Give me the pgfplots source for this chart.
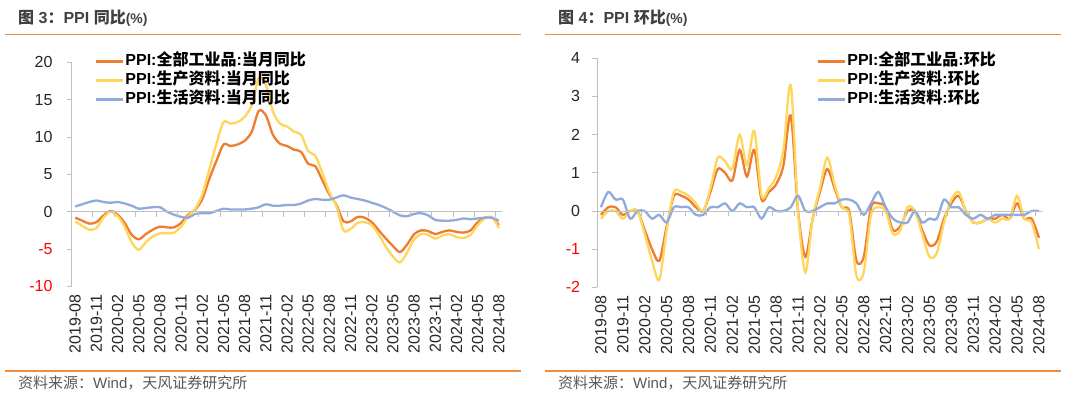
\documentclass[border=0pt]{standalone}
\usepackage{fontspec}
\setmainfont{Liberation Sans}
\newfontfamily\cjk{Noto Sans CJK SC}
\usepackage{pgfplots}
\pgfplotsset{compat=1.18}
\usepackage{pgfplotstable}
\definecolor{cO}{RGB}{237,125,49}
\definecolor{cY}{RGB}{255,214,92}
\definecolor{cB}{RGB}{143,170,220}
\definecolor{axg}{RGB}{191,191,191}
\definecolor{ttl}{RGB}{64,64,64}
\definecolor{src}{RGB}{89,89,89}
\definecolor{rulec}{RGB}{243,140,60}
\definecolor{tk}{RGB}{38,38,38}

\pgfplotstableread{
m all prod cons
0 -0.8 -1.3 0.7
1 -1.2 -1.9 1.0
2 -1.6 -2.4 1.3
3 -1.4 -2.2 1.5
4 -0.5 -0.8 1.3
5 0.1 0.0 1.2
6 -0.4 -0.6 1.3
7 -1.5 -2.0 1.1
8 -3.1 -4.1 0.8
9 -3.7 -5.1 0.4
10 -3.0 -4.1 0.5
11 -2.4 -3.3 0.6
12 -2.0 -2.9 0.6
13 -2.1 -2.9 0.0
14 -2.1 -2.8 -0.4
15 -1.5 -2.0 -0.7
16 -0.4 -0.6 -0.8
17 0.3 0.4 -0.3
18 1.7 2.3 -0.2
19 4.4 5.7 -0.2
20 6.8 9.1 0.1
21 9.0 12.0 0.4
22 8.8 11.8 0.3
23 9.0 12.0 0.3
24 9.5 12.7 0.3
25 10.7 14.3 0.4
26 13.5 17.9 0.6
27 12.9 17.0 1.0
28 10.3 13.4 0.8
29 9.1 11.8 0.8
30 8.8 11.4 0.9
31 8.3 10.7 0.9
32 8.0 10.3 1.1
33 6.4 8.1 1.5
34 6.1 7.5 1.7
35 4.2 5.2 1.6
36 2.3 2.6 1.6
37 0.9 0.7 1.9
38 -1.3 -2.5 2.2
39 -1.3 -2.3 1.9
40 -0.7 -1.5 1.7
41 -0.8 -1.4 1.5
42 -1.4 -1.8 1.2
43 -2.5 -3.1 0.9
44 -3.6 -4.7 0.5
45 -4.6 -6.0 0.0
46 -5.4 -6.8 -0.5
47 -4.4 -5.5 -0.6
48 -3.0 -3.7 -0.3
49 -2.5 -3.0 -0.2
50 -2.6 -3.1 -0.5
51 -3.0 -3.6 -1.1
52 -2.7 -3.2 -1.2
53 -2.5 -3.0 -1.2
54 -2.7 -3.4 -1.1
55 -2.8 -3.5 -0.9
56 -2.5 -3.1 -1.0
57 -1.4 -1.8 -0.9
58 -0.8 -0.9 -0.8
59 -0.8 -0.7 -0.8
60 -1.8 -2.2 -1.2
}\yoy

\pgfplotstableread{
m all prod cons
0 -0.1 -0.2 0.1
1 0.1 0.0 0.5
2 0.1 0.0 0.3
3 -0.1 -0.2 0.3
4 0.0 0.0 -0.2
5 0.0 0.0 0.0
6 -0.5 -0.6 0.0
7 -1.0 -1.3 -0.2
8 -1.3 -1.8 -0.1
9 -0.4 -0.5 -0.3
10 0.4 0.5 0.1
11 0.4 0.5 0.1
12 0.3 0.4 0.1
13 0.1 0.2 -0.1
14 0.0 0.0 -0.1
15 0.5 0.6 0.1
16 1.1 1.4 0.1
17 1.0 1.3 0.2
18 0.8 1.1 0.0
19 1.6 2.0 0.2
20 0.9 1.2 0.1
21 1.6 2.1 0.1
22 0.3 0.4 -0.2
23 0.5 0.6 0.1
24 0.7 0.9 0.0
25 1.2 1.6 0.0
26 2.5 3.3 0.1
27 0.0 0.0 0.4
28 -1.2 -1.6 0.0
29 -0.2 -0.2 0.0
30 0.5 0.6 0.1
31 1.1 1.4 0.2
32 0.6 0.7 0.2
33 0.1 0.1 0.3
34 0.0 -0.1 0.3
35 -1.3 -1.7 0.2
36 -1.2 -1.6 -0.1
37 0.1 -0.1 0.2
38 0.2 0.1 0.5
39 0.1 0.0 0.1
40 -0.5 -0.6 -0.2
41 -0.4 -0.5 -0.3
42 0.0 0.1 -0.3
43 0.0 0.0 0.0
44 -0.5 -0.6 -0.3
45 -0.9 -1.2 -0.2
46 -0.8 -1.1 -0.2
47 -0.2 -0.3 0.3
48 0.2 0.3 0.1
49 0.4 0.5 0.1
50 0.0 0.0 -0.1
51 -0.3 -0.3 -0.2
52 -0.3 -0.3 -0.1
53 -0.2 -0.2 -0.2
54 -0.2 -0.3 -0.1
55 -0.1 -0.2 -0.1
56 -0.2 -0.2 -0.1
57 0.2 0.4 -0.1
58 -0.2 -0.2 -0.1
59 -0.2 -0.3 0.0
60 -0.7 -1.0 0.0
}\mom

\pgfplotsset{
  panel/.style={
    scale only axis,
    xmin=-0.5, xmax=60.5,
    axis lines=left,
    axis line style={-},
    x axis line style={draw=none},
    y axis line style={draw=axg, line width=0.8pt},
    xtick={0,3,...,60},
    xticklabels={2019-08,2019-11,2020-02,2020-05,2020-08,2020-11,2021-02,2021-05,2021-08,2021-11,2022-02,2022-05,2022-08,2022-11,2023-02,2023-05,2023-08,2023-11,2024-02,2024-05,2024-08},
    x tick style={draw=none},
    xtick align=inside,
    ytick align=outside,
    major tick length=5pt,
    y tick style={draw=axg, line width=0.8pt},
    xticklabel style={rotate=90, anchor=east, inner sep=0pt, xshift=-8pt, text=tk, font=\fontsize{16}{16}\selectfont},
    yticklabel style={anchor=east, inner sep=0pt, text=tk, font=\fontsize{16}{16}\selectfont},
    legend cell align=left,
    legend image code/.code={\draw[#1, line width=2.5pt] (0pt,0pt) -- (27pt,0pt);},
    legend style={anchor=north west, draw=none, fill=none, inner sep=0pt, outer sep=0pt, row sep=0pt,
      font=\fontsize{16}{16}\selectfont\bfseries,
      nodes={inner sep=1pt, text height=13pt, text depth=4pt},
      /tikz/every even column/.append style={column sep=4pt}},
    every axis plot/.append style={line width=2.3pt, smooth, tension=0.5},
  }
}

\newcommand{\zeroline}{%
  \draw[axg, line width=0.8pt] (axis cs:-0.5,0) -- (axis cs:60.5,0);
  \pgfplotsinvokeforeach{2.5,5.5,8.5,11.5,14.5,17.5,20.5,23.5,26.5,29.5,32.5,35.5,38.5,41.5,44.5,47.5,50.5,53.5,56.5,59.5}{\draw[axg, line width=0.8pt] (axis cs:##1,0) -- ++(0pt,-5pt);}%
}

\begin{document}
\begin{tikzpicture}
\path[fill=white] (0pt,0pt) rectangle (1080pt,394pt);

% titles
\node[anchor=west, inner sep=0pt, text=ttl, font=\fontsize{16}{16}\selectfont\bfseries] at (18pt,376pt) {{\cjk 图}~3{\cjk ：}PPI {\cjk 同比}{\fontsize{14}{14}\selectfont(\%)}};
\node[anchor=west, inner sep=0pt, text=ttl, font=\fontsize{16}{16}\selectfont\bfseries] at (558pt,376pt) {{\cjk 图}~4{\cjk ：}PPI {\cjk 环比}{\fontsize{14}{14}\selectfont(\%)}};
\draw[rulec, line width=1.5pt] (5pt,359.5pt) -- (521pt,359.5pt);
\draw[rulec, line width=1.5pt] (545pt,359.5pt) -- (1061pt,359.5pt);
\draw[rulec, line width=1.2pt] (5pt,23pt) -- (521pt,23pt);
\draw[rulec, line width=1.2pt] (545pt,23pt) -- (1061pt,23pt);
\node[anchor=west, inner sep=0pt, text=src, font=\fontsize{15}{15}\selectfont] at (18pt,11pt) {{\cjk 资料来源：}Wind{\cjk ，天风证券研究所}};
\node[anchor=west, inner sep=0pt, text=src, font=\fontsize{15}{15}\selectfont] at (558pt,11pt) {{\cjk 资料来源：}Wind{\cjk ，天风证券研究所}};

% left panel
\begin{axis}[panel,
  at={(71.7pt,107.6pt)}, anchor=south west,
  width=430.7pt, height=224.1pt,
  ymin=-10, ymax=20,
  ytick={-10,-5,0,5,10,15,20},
  yticklabels={\textcolor{red}{-10},\textcolor{red}{-5},0,5,10,15,20},
  yticklabel style={xshift=-14pt},
  legend style={at={(0.054,1.047)}},
]
\addplot[cO] table[x=m, y=all] {\yoy};
\addlegendentry{PPI:{\cjk 全部工业品}:{\cjk 当月同比}}
\addplot[cY] table[x=m, y=prod] {\yoy};
\addlegendentry{PPI:{\cjk 生产资料}:{\cjk 当月同比}}
\addplot[cB] table[x=m, y=cons] {\yoy};
\addlegendentry{PPI:{\cjk 生活资料}:{\cjk 当月同比}}
\zeroline
\end{axis}

% right panel
\begin{axis}[panel,
  at={(597.3pt,106.6pt)}, anchor=south west,
  width=445.3pt, height=229.1pt,
  ymin=-2, ymax=4,
  ytick={-2,-1,0,1,2,3,4},
  yticklabels={\textcolor{red}{-2},\textcolor{red}{-1},0,1,2,3,4},
  yticklabel style={xshift=-12pt},
  legend style={at={(0.493,1.028)}},
]
\addplot[cO] table[x=m, y=all] {\mom};
\addlegendentry{PPI:{\cjk 全部工业品}:{\cjk 环比}}
\addplot[cY] table[x=m, y=prod] {\mom};
\addlegendentry{PPI:{\cjk 生产资料}:{\cjk 环比}}
\addplot[cB] table[x=m, y=cons] {\mom};
\addlegendentry{PPI:{\cjk 生活资料}:{\cjk 环比}}
\zeroline
\end{axis}
\end{tikzpicture}
\end{document}
